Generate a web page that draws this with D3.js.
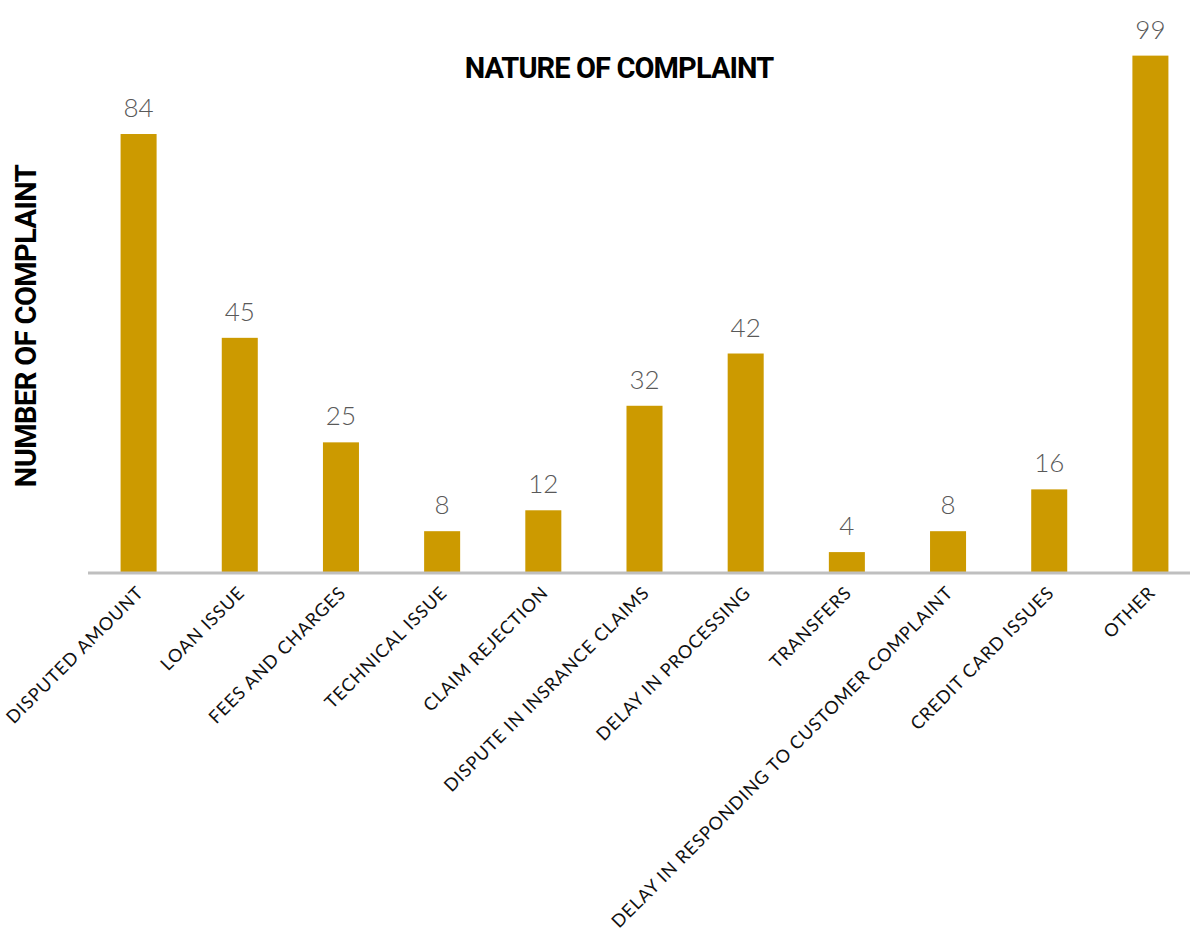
<!DOCTYPE html>
<html><head><meta charset="utf-8">
<script src="https://cdn.jsdelivr.net/npm/d3@7"></script>
<style>body{margin:0;background:#fff;} svg{display:block;}</style>
</head><body>
<svg id="chart" width="1190" height="932"></svg>
<script>
const categories = ["DISPUTED AMOUNT","LOAN ISSUE","FEES AND CHARGES","TECHNICAL ISSUE","CLAIM REJECTION","DISPUTE IN INSRANCE CLAIMS","DELAY IN PROCESSING","TRANSFERS","DELAY IN RESPONDING TO CUSTOMER COMPLAINT","CREDIT CARD ISSUES","OTHER"];
const values = [84,45,25,8,12,32,42,4,8,16,99];
const title = "NATURE OF COMPLAINT";
const yTitle = "NUMBER OF COMPLAINT";

const svg = d3.select("#chart");
const x = d3.scaleBand().domain(categories).range([88, 1201]).paddingInner(0.644).paddingOuter(0.322);
const y = d3.scaleLinear().domain([0, 100]).range([573, 50.4]);
const color = "#cc9a00";

svg.selectAll("rect.bar").data(values).join("rect")
  .attr("class","bar")
  .attr("x",(d,i)=>x(categories[i]))
  .attr("width",x.bandwidth())
  .attr("y",d=>y(d))
  .attr("height",d=>y(0)-y(d))
  .attr("fill",color);

svg.selectAll("text.val").data(values).join("text")
  .attr("class","val")
  .attr("x",(d,i)=>x(categories[i])+x.bandwidth()/2)
  .attr("y",d=>y(d)-17)
  .attr("text-anchor","middle")
  .attr("font-family","Lato, 'Open Sans', sans-serif")
  .attr("font-weight",300)
  .attr("font-size",26)
  .attr("fill","#595959")
  .text(d=>d);

const xAxis = svg.append("g").attr("transform","translate(0,573)")
  .call(d3.axisBottom(x).tickSize(0).tickPadding(0));
xAxis.select(".domain").attr("stroke","#bfbfbf").attr("stroke-width",3).attr("d","M88,0H1190");
xAxis.selectAll(".tick text")
  .attr("font-family","Lato, sans-serif")
  .attr("font-size",18)
  .attr("letter-spacing","0.85")
  .attr("fill","#111")
  .attr("text-anchor","end")
  .attr("dy",0)
  .attr("transform","translate(6,21) rotate(-45)");

svg.append("text").attr("x",619).attr("y",78).attr("text-anchor","middle")
  .attr("font-family","Roboto, sans-serif").attr("font-weight",700)
  .attr("font-size",29).attr("letter-spacing","-0.9").attr("fill","#000").text(title);

svg.append("text").attr("transform","translate(36,326) rotate(-90)").attr("text-anchor","middle")
  .attr("font-family","Roboto, sans-serif").attr("font-weight",700)
  .attr("font-size",29).attr("letter-spacing","-0.6").attr("fill","#000").text(yTitle);
</script>
</body></html>
